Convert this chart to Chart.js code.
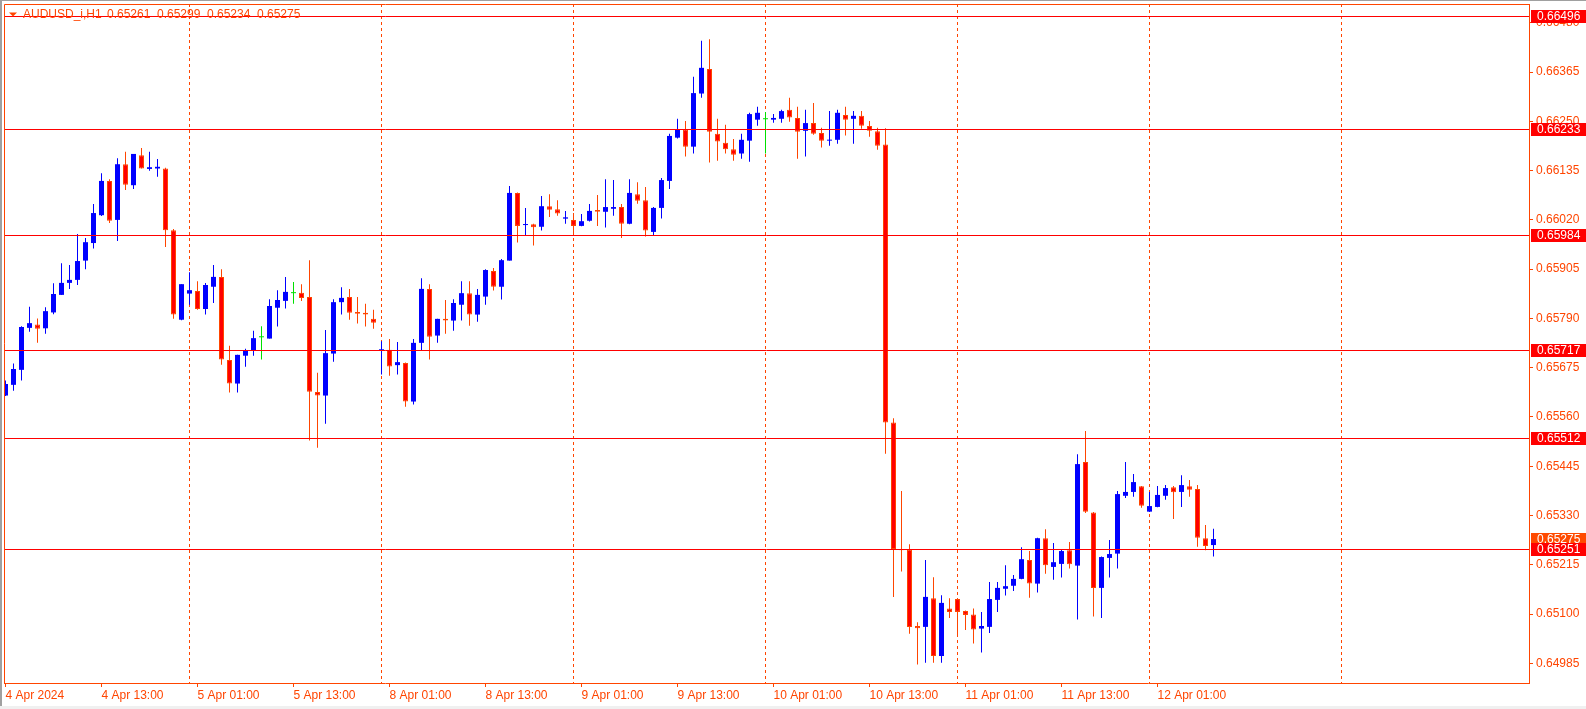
<!DOCTYPE html>
<html>
<head>
<meta charset="utf-8">
<script src="https://cdn.jsdelivr.net/npm/chart.js@4.4.1/dist/chart.umd.min.js"></script>
<style>
html, body { margin: 0; padding: 0; background: #fff; overflow: hidden; }
#wrap { position: relative; width: 1586px; height: 709px; }
</style>
</head>
<body>
<div id="wrap"><canvas id="chart" width="1586" height="709"></canvas></div>
<script>
// AUDUSD_i H1, one value per hourly bar (bar 0 = 4 Apr 01:00)
const symbol = 'AUDUSD_i,H1';

const opens = [
  0.65610,0.65635,0.65670,0.65768,0.65776,0.65767,0.65804,0.65845,0.65873,0.65880,
  0.65925,0.65966,0.66031,0.66111,0.66020,0.66150,0.66101,0.66171,0.66139,0.66140,
  0.66140,0.65996,0.65787,0.65848,0.65854,0.65812,0.65864,0.65887,0.65693,0.65638,
  0.65703,0.65715,0.65746,0.65743,0.65815,0.65831,0.65849,0.65850,0.65840,0.65618,
  0.65610,0.65708,0.65828,0.65840,0.65805,0.65803,0.65789,0.65715,0.65717,0.65681,
  0.65686,0.65596,0.65733,0.65859,0.65750,0.65789,0.65785,0.65822,0.65849,0.65799,
  0.65841,0.65901,0.65864,0.65925,0.66083,0.66008,0.66010,0.66004,0.66052,0.66045,
  0.66023,0.66020,0.66006,0.66018,0.66043,0.66039,0.66046,0.66050,0.66011,0.66080,
  0.66066,0.65992,0.66048,0.66111,0.66212,0.66231,0.66191,0.66315,0.66372,0.66221,
  0.66200,0.66185,0.66175,0.66205,0.66254,0.66255,0.66254,0.66256,0.66277,0.66258,
  0.66228,0.66246,0.66223,0.66205,0.66207,0.66265,0.66256,0.66263,0.66239,0.66227,
  0.66196,0.65547,0.65252,0.65250,0.65072,0.65070,0.65137,0.65002,0.65113,0.65135,
  0.65107,0.65099,0.65066,0.65070,0.65133,0.65159,0.65166,0.65182,0.65226,0.65171,
  0.65277,0.65210,0.65217,0.65249,0.65213,0.65455,0.65337,0.65161,0.65231,0.65241,
  0.65376,0.65385,0.65398,0.65339,0.65350,0.65376,0.65396,0.65385,0.65398,0.65392,
  0.65277,0.65261
];
const highs = [
  0.65645,0.65685,0.65772,0.65817,0.65790,0.65816,0.65872,0.65919,0.65915,0.65987,
  0.65978,0.66057,0.66129,0.66115,0.66164,0.66179,0.66174,0.66188,0.66179,0.66162,
  0.66142,0.65999,0.65870,0.65898,0.65877,0.65873,0.65915,0.65905,0.65726,0.65705,
  0.65719,0.65761,0.65772,0.65835,0.65856,0.65887,0.65875,0.65870,0.65926,0.65663,
  0.65763,0.65835,0.65863,0.65859,0.65840,0.65824,0.65810,0.65737,0.65742,0.65735,
  0.65687,0.65742,0.65884,0.65870,0.65789,0.65833,0.65835,0.65877,0.65877,0.65859,
  0.65905,0.65908,0.65929,0.66099,0.66084,0.66048,0.66011,0.66076,0.66080,0.66066,
  0.66041,0.66036,0.66034,0.66057,0.66078,0.66115,0.66113,0.66057,0.66115,0.66108,
  0.66097,0.66050,0.66118,0.66221,0.66256,0.66251,0.66354,0.66438,0.66442,0.66256,
  0.66242,0.66209,0.66221,0.66270,0.66284,0.66272,0.66267,0.66277,0.66305,0.66284,
  0.66277,0.66293,0.66235,0.66274,0.66277,0.66284,0.66274,0.66274,0.66251,0.66235,
  0.66234,0.65557,0.65387,0.65263,0.65081,0.65226,0.65186,0.65144,0.65137,0.65136,
  0.65108,0.65113,0.65105,0.65175,0.65175,0.65214,0.65191,0.65256,0.65247,0.65278,
  0.65298,0.65266,0.65252,0.65268,0.65473,0.65527,0.65338,0.65234,0.65273,0.65387,
  0.65455,0.65427,0.65399,0.65385,0.65399,0.65401,0.65399,0.65424,0.65413,0.65401,
  0.65308,0.65299
];
const lows = [
  0.65609,0.65621,0.65645,0.65759,0.65733,0.65754,0.65800,0.65845,0.65859,0.65868,
  0.65905,0.65953,0.66029,0.66013,0.65971,0.66090,0.66092,0.66140,0.66135,0.66121,
  0.65957,0.65789,0.65786,0.65822,0.65810,0.65799,0.65826,0.65682,0.65617,0.65617,
  0.65677,0.65703,0.65694,0.65743,0.65771,0.65813,0.65824,0.65831,0.65505,0.65488,
  0.65544,0.65689,0.65799,0.65787,0.65778,0.65771,0.65766,0.65659,0.65656,0.65659,
  0.65584,0.65589,0.65715,0.65694,0.65733,0.65754,0.65761,0.65785,0.65773,0.65782,
  0.65822,0.65855,0.65834,0.65925,0.65967,0.65983,0.65960,0.65995,0.66027,0.66030,
  0.66011,0.65984,0.66005,0.66016,0.66006,0.66002,0.66030,0.65978,0.66010,0.66058,
  0.65981,0.65983,0.66023,0.66092,0.66210,0.66168,0.66175,0.66305,0.66154,0.66158,
  0.66175,0.66158,0.66163,0.66156,0.66240,0.66175,0.66247,0.66247,0.66249,0.66163,
  0.66168,0.66219,0.66189,0.66193,0.66198,0.66217,0.66198,0.66233,0.66214,0.66184,
  0.65474,0.65140,0.65199,0.65054,0.64982,0.64986,0.64986,0.64986,0.65091,0.65047,
  0.65063,0.65031,0.65010,0.65056,0.65105,0.65143,0.65154,0.65181,0.65138,0.65150,
  0.65194,0.65180,0.65185,0.65206,0.65087,0.65336,0.65094,0.65091,0.65185,0.65206,
  0.65371,0.65374,0.65348,0.65338,0.65349,0.65367,0.65322,0.65350,0.65374,0.65257,
  0.65249,0.65234
];
const closes = [
  0.65637,0.65672,0.65770,0.65779,0.65766,0.65807,0.65847,0.65873,0.65880,0.65924,
  0.65968,0.66036,0.66111,0.66018,0.66150,0.66102,0.66174,0.66140,0.66143,0.66144,
  0.65996,0.65799,0.65870,0.65856,0.65812,0.65868,0.65887,0.65694,0.65638,0.65705,
  0.65714,0.65744,0.65746,0.65819,0.65833,0.65852,0.65849,0.65838,0.65619,0.65610,
  0.65709,0.65828,0.65838,0.65803,0.65801,0.65799,0.65780,0.65718,0.65678,0.65688,
  0.65596,0.65733,0.65859,0.65747,0.65789,0.65785,0.65826,0.65849,0.65799,0.65845,
  0.65903,0.65864,0.65926,0.66083,0.66006,0.66010,0.66003,0.66052,0.66044,0.66035,
  0.66026,0.66006,0.66017,0.66041,0.66039,0.66050,0.66050,0.66011,0.66083,0.66065,
  0.65995,0.66048,0.66113,0.66216,0.66231,0.66191,0.66316,0.66375,0.66226,0.66203,
  0.66185,0.66172,0.66207,0.66267,0.66270,0.66255,0.66258,0.66274,0.66259,0.66226,
  0.66246,0.66221,0.66205,0.66207,0.66270,0.66254,0.66263,0.66240,0.66228,0.66193,
  0.65547,0.65252,0.65249,0.65070,0.65067,0.65140,0.65002,0.65126,0.65105,0.65105,
  0.65098,0.65064,0.65072,0.65135,0.65161,0.65165,0.65182,0.65228,0.65171,0.65277,
  0.65214,0.65221,0.65247,0.65216,0.65450,0.65339,0.65161,0.65233,0.65240,0.65380,
  0.65385,0.65408,0.65353,0.65352,0.65378,0.65394,0.65384,0.65401,0.65390,0.65278,
  0.65259,0.65275
];

// time axis: bar index of each label
const timeTicks = [0, 12, 24, 36, 48, 60, 72, 84, 96, 108, 120, 132, 144];
const timeLabels = ['4 Apr 2024', '4 Apr 13:00', '5 Apr 01:00', '5 Apr 13:00', '8 Apr 01:00', '8 Apr 13:00',
  '9 Apr 01:00', '9 Apr 13:00', '10 Apr 01:00', '10 Apr 13:00', '11 Apr 01:00', '11 Apr 13:00', '12 Apr 01:00'];
const daySeparators = [23, 47, 71, 95, 119, 143, 167]; // 00:00 bars

const priceTicks = [0.64985, 0.65100, 0.65215, 0.65330, 0.65445, 0.65560, 0.65675,
  0.65790, 0.65905, 0.66020, 0.66135, 0.66250, 0.66365, 0.66480];
const levels = [0.66496, 0.66233, 0.65984, 0.65717, 0.65512, 0.65251]; // horizontal lines

const fg = '#FF4500';
const bullColor = '#0000FF';
const bearFill = '#FF0000';
const dojiColor = '#00E000';

Chart.defaults.font.family = '"Liberation Sans", Arial, sans-serif';
Chart.defaults.font.size = 12;

function bodyFill(i) {
  if (i === undefined) return bullColor;
  if (closes[i] > opens[i]) return bullColor;
  if (closes[i] < opens[i]) return bearFill;
  return dojiColor;
}
function wickColor(i) {
  if (i === undefined) return bullColor;
  if (closes[i] > opens[i]) return bullColor;
  if (closes[i] < opens[i]) return fg;
  return dojiColor;
}

const idx = opens.map((_, i) => i);

// extra drawing: frame, separators, levels, price tags, title
const mtPlugin = {
  id: 'mt4',
  beforeDraw(chart) {
    const ctx = chart.ctx;
    ctx.save();
    ctx.fillStyle = '#fff';
    ctx.fillRect(0, 0, chart.width, chart.height);
    ctx.fillStyle = '#A0A0A0';
    ctx.fillRect(0, 0, 2, chart.height);
    ctx.fillRect(0, 0, chart.width, 1);
    ctx.fillStyle = '#F0F0F0';
    ctx.fillRect(0, 706, chart.width, 3);
    ctx.restore();
  },
  beforeDatasetsDraw(chart) {
    const {ctx, chartArea: a, scales: {x}} = chart;
    ctx.save();
    ctx.strokeStyle = fg;
    ctx.lineWidth = 1;
    ctx.setLineDash([3, 3]);
    daySeparators.forEach(d => {
      const px = Math.floor(x.getPixelForValue(d)) + 0.5;
      ctx.beginPath();
      ctx.moveTo(px, a.top);
      ctx.lineTo(px, a.bottom);
      ctx.stroke();
    });
    ctx.restore();
  },
  afterDatasetsDraw(chart) {
    const {ctx, chartArea: a, scales: {y}} = chart;
    ctx.save();
    ctx.strokeStyle = '#FF0000';
    ctx.lineWidth = 1;
    levels.forEach(v => {
      const py = Math.round(y.getPixelForValue(v)) + 0.5;
      ctx.beginPath();
      ctx.moveTo(a.left, py);
      ctx.lineTo(a.right, py);
      ctx.stroke();
    });
    ctx.restore();
  },
  afterDraw(chart) {
    const {ctx, chartArea: a, scales: {y}} = chart;
    ctx.save();
    // left and top frame
    ctx.strokeStyle = fg;
    ctx.lineWidth = 1;
    ctx.beginPath();
    ctx.moveTo(a.left + 0.5, a.bottom);
    ctx.lineTo(a.left + 0.5, a.top + 0.5);
    ctx.lineTo(a.right, a.top + 0.5);
    ctx.stroke();

    // price tags on the right
    ctx.font = '12px "Liberation Sans", Arial, sans-serif';
    ctx.textBaseline = 'middle';
    ctx.textAlign = 'left';
    const last = closes.length - 1;
    const tag = (v, color) => {
      const py = Math.round(y.getPixelForValue(v));
      ctx.fillStyle = color;
      ctx.fillRect(a.right + 2, py - 6, chart.width - a.right - 2, 13);
      ctx.fillStyle = '#fff';
      ctx.fillText(v.toFixed(5), a.right + 8, py + 1);
    };
    tag(closes[last], '#FF4A00');
    levels.forEach(v => tag(v, '#FF0000'));

    // title
    ctx.fillStyle = fg;
    ctx.beginPath();
    ctx.moveTo(9, 12.5);
    ctx.lineTo(17, 12.5);
    ctx.lineTo(13, 16.5);
    ctx.closePath();
    ctx.fill();
    ctx.textBaseline = 'alphabetic';
    ctx.fillText(symbol, 23, 18);
    [opens[last], highs[last], lows[last], closes[last]].forEach((v, i) => {
      ctx.fillText(v.toFixed(5), 107 + i * 50, 18);
    });
    ctx.restore();
  }
};

new Chart(document.getElementById('chart'), {
  type: 'bar',
  data: {
    datasets: [
      {
        label: 'body',
        data: idx.map(i => ({x: i, y: [opens[i], closes[i]]})),
        barThickness: 5,
        minBarLength: 1,
        grouped: false,
        inflateAmount: 0,
        order: 0,
        backgroundColor: c => bodyFill(c.dataIndex),
        borderColor: fg,
        borderWidth: c => (c.dataIndex !== undefined && closes[c.dataIndex] < opens[c.dataIndex]) ? 1 : 0,
        borderSkipped: false
      },
      {
        label: 'wick',
        data: idx.map(i => ({x: i, y: [lows[i], highs[i]]})),
        barThickness: 1,
        grouped: false,
        inflateAmount: 0,
        order: 1,
        backgroundColor: c => wickColor(c.dataIndex),
        borderWidth: 0
      }
    ]
  },
  options: {
    responsive: false,
    animation: false,
    devicePixelRatio: 1,
    layout: { padding: { left: 4, top: 4, right: 0, bottom: 0 } },
    plugins: { legend: { display: false }, tooltip: { enabled: false } },
    scales: {
      x: {
        type: 'linear',
        position: 'bottom',
        min: -0.1875,
        max: 190.4375,
        offset: false,
        bounds: 'data',
        afterBuildTicks: s => { s.ticks = timeTicks.map(v => ({value: v})); },
        afterFit: s => { s.height = 26; s.paddingLeft = 0; s.paddingRight = 0; },
        grid: { display: true, drawOnChartArea: false, drawTicks: true, tickLength: 4, color: fg, offset: false },
        border: { display: true, color: fg },
        ticks: {
          autoSkip: false,
          maxRotation: 0,
          minRotation: 0,
          align: 'start',
          padding: 1,
          color: fg,
          callback: (v, i) => timeLabels[i]
        }
      },
      y: {
        type: 'linear',
        position: 'right',
        min: 0.64939,
        max: 0.66524,
        bounds: 'data',
        beginAtZero: false,
        afterBuildTicks: s => { s.ticks = priceTicks.map(v => ({value: v})); },
        afterFit: s => { s.width = 57; s.paddingTop = 0; s.paddingBottom = 0; },
        grid: { display: true, drawOnChartArea: false, drawTicks: true, tickLength: 4, color: fg },
        border: { display: true, color: fg },
        ticks: {
          autoSkip: false,
          padding: 3,
          color: fg,
          callback: v => v.toFixed(5)
        }
      }
    }
  },
  plugins: [mtPlugin]
});
</script>
</body>
</html>
